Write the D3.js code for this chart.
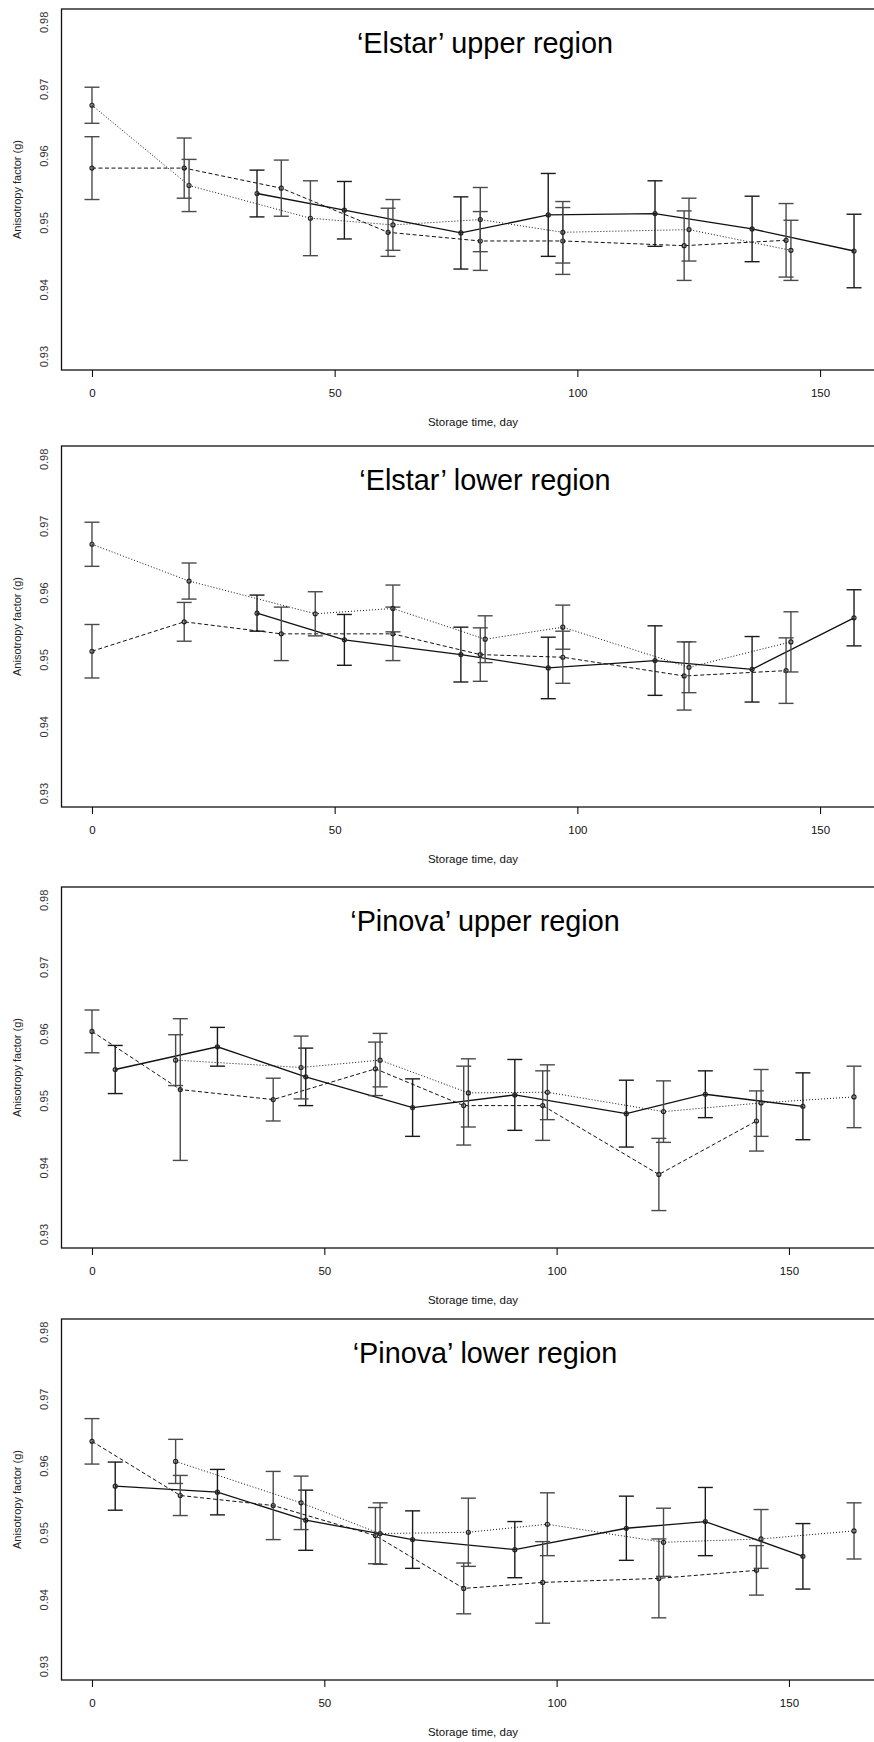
<!DOCTYPE html>
<html>
<head>
    <meta charset="utf-8">
    <title>Anisotropy factor during storage</title>
    <script src="https://d3js.org/d3.v7.min.js"></script>
    <style>
        body { margin: 0; background: #fff; }
    </style>
</head>
<body>
    <div id="chart"></div>
    <script>

// each point: [storage day, anisotropy factor, error bar half-width]
const elstarUpperSolid  = [[34,0.9544,0.0035],[52,0.9519,0.0043],[76,0.9485,0.0054],[94,0.9512,0.0062],[116,0.9514,0.0049],[136,0.9491,0.0049],[157,0.9458,0.0055]];
const elstarUpperDashed = [[0,0.9582,0.0047],[19,0.9582,0.0045],[39,0.9552,0.0042],[61,0.9486,0.0036],[80,0.9473,0.0044],[97,0.9473,0.0050],[122,0.9466,0.0052],[143,0.9474,0.0055]];
const elstarUpperDotted = [[0,0.9676,0.0027],[20,0.9556,0.0039],[45,0.9507,0.0056],[62,0.9497,0.0038],[80,0.9505,0.0048],[97,0.9486,0.0046],[123,0.9490,0.0047],[144,0.9459,0.0045]];

const elstarLowerSolid  = [[34,0.9570,0.0027],[52,0.9530,0.0038],[76,0.9508,0.0041],[94,0.9488,0.0046],[116,0.9499,0.0052],[136,0.9486,0.0049],[157,0.9563,0.0042]];
const elstarLowerDashed = [[0,0.9513,0.0040],[19,0.9557,0.0029],[39,0.9539,0.0040],[62,0.9539,0.0040],[80,0.9508,0.0040],[97,0.9504,0.0039],[122,0.9476,0.0051],[143,0.9484,0.0049]];
const elstarLowerDotted = [[0,0.9673,0.0033],[20,0.9618,0.0027],[46,0.9569,0.0033],[62,0.9577,0.0035],[81,0.9531,0.0035],[97,0.9549,0.0033],[123,0.9489,0.0038],[144,0.9527,0.0045]];

const pinovaUpperSolid  = [[5,0.9547,0.0036],[27,0.9581,0.0029],[46,0.9536,0.0043],[69,0.9490,0.0043],[91,0.9509,0.0053],[115,0.9481,0.0050],[132,0.9510,0.0035],[153,0.9492,0.0050]];
const pinovaUpperDashed = [[0,0.9604,0.0032],[19,0.9517,0.0106],[39,0.9502,0.0032],[61,0.9548,0.0040],[80,0.9493,0.0059],[97,0.9493,0.0052],[122,0.9390,0.0054],[143,0.9470,0.0045]];
const pinovaUpperDotted = [[18,0.9561,0.0038],[45,0.9550,0.0047],[62,0.9561,0.0040],[81,0.9512,0.0051],[98,0.9513,0.0041],[123,0.9484,0.0046],[144,0.9497,0.0050],[164,0.9506,0.0046]];

const pinovaLowerSolid  = [[5,0.9570,0.0036],[27,0.9561,0.0034],[46,0.9519,0.0045],[69,0.9490,0.0043],[91,0.9475,0.0042],[115,0.9507,0.0048],[132,0.9517,0.0051],[153,0.9465,0.0049]];
const pinovaLowerDashed = [[0,0.9637,0.0034],[19,0.9556,0.0030],[39,0.9541,0.0051],[61,0.9496,0.0042],[80,0.9417,0.0038],[97,0.9426,0.0061],[122,0.9432,0.0059],[143,0.9444,0.0037]];
const pinovaLowerDotted = [[18,0.9607,0.0033],[45,0.9545,0.0040],[62,0.9499,0.0046],[81,0.9501,0.0051],[98,0.9513,0.0047],[123,0.9486,0.0051],[144,0.9491,0.0044],[164,0.9503,0.0042]];

const panelTitles = ["\u2018Elstar\u2019 upper region", "\u2018Elstar\u2019 lower region", "\u2018Pinova\u2019 upper region", "\u2018Pinova\u2019 lower region"];
const xTicks = [0, 50, 100, 150];
const yTicks = [0.93, 0.94, 0.95, 0.96, 0.97, 0.98];
const xTitle = "Storage time, day";
const yTitle = "Anisotropy factor (g)";

const panels = [
  [elstarUpperSolid, elstarUpperDashed, elstarUpperDotted],
  [elstarLowerSolid, elstarLowerDashed, elstarLowerDotted],
  [pinovaUpperSolid, pinovaUpperDashed, pinovaUpperDotted],
  [pinovaLowerSolid, pinovaLowerDashed, pinovaLowerDotted]
];

// solid, dashed, dotted
const lineStyles = [
  {dash: null, width: 1.3},
  {dash: "4,2.5", width: 1},
  {dash: "1,2", width: 1}
];

const width = 874;
const height = 1742;
const panelTops = [9, 446, 887, 1319];
const plotLeft = 61.5, plotRight = 884.5, plotHeight = 361;
const font = "'Liberation Sans', Arial, sans-serif";

const svg = d3.create("svg")
    .attr("width", width)
    .attr("height", height)
    .attr("viewBox", [0, 0, width, height])
    .attr("style", "display: block; overflow: hidden;")
    .attr("font-family", font);

function pad(lo, hi) {
  const d = (hi - lo) * 0.04;
  return [lo - d, hi + d];
}

function drawPanel(series, title, top) {
  const g = svg.append("g");
  const allDays = series.flat().map(d => d[0]);

  const x = d3.scaleLinear()
      .domain(pad(d3.min(allDays), d3.max(allDays)))
      .range([plotLeft, plotRight]);

  const y = d3.scaleLinear()
      .domain(pad(yTicks[0], yTicks[yTicks.length - 1]))
      .range([top + plotHeight, top]);

  // frame
  g.append("rect")
      .attr("x", plotLeft)
      .attr("y", top)
      .attr("width", plotRight - plotLeft)
      .attr("height", plotHeight)
      .attr("fill", "none")
      .attr("stroke", "#111")
      .attr("stroke-width", 1.3);

  // x axis
  const xAxis = g.append("g")
      .attr("transform", `translate(0,${top + plotHeight})`)
      .call(d3.axisBottom(x).tickValues(xTicks).tickSize(7).tickPadding(12).tickFormat(d3.format("d")));
  xAxis.select(".domain").remove();
  xAxis.selectAll("line").attr("stroke", "#111").attr("stroke-width", 1.1);
  xAxis.selectAll("text")
      .attr("font-family", font)
      .attr("font-size", 11.5)
      .attr("fill", "#111");

  // y tick labels, parallel to the axis
  g.append("g")
    .selectAll("text")
    .data(yTicks)
    .join("text")
      .attr("transform", d => `translate(44.5,${y(d)}) rotate(-90)`)
      .attr("text-anchor", "middle")
      .attr("dy", "0.35em")
      .attr("font-size", 11)
      .attr("fill", "#333")
      .text(d => d3.format(".2f")(d));

  g.append("text")
      .attr("transform", `translate(17,${top + plotHeight / 2}) rotate(-90)`)
      .attr("text-anchor", "middle")
      .attr("dy", "0.35em")
      .attr("font-size", 11)
      .attr("fill", "#222")
      .text(yTitle);

  g.append("text")
      .attr("x", 473)
      .attr("y", top + plotHeight + 56)
      .attr("text-anchor", "middle")
      .attr("font-size", 11.5)
      .attr("fill", "#111")
      .text(xTitle);

  g.append("text")
      .attr("x", 485)
      .attr("y", top + 44)
      .attr("text-anchor", "middle")
      .attr("font-size", 28.8)
      .attr("fill", "#000")
      .text(title);

  const line = d3.line()
      .x(d => x(d[0]))
      .y(d => y(d[1]));

  series.forEach((data, i) => {
    const style = lineStyles[i];

    g.append("path")
        .datum(data)
        .attr("fill", "none")
        .attr("stroke", "#111")
        .attr("stroke-width", style.width)
        .attr("stroke-dasharray", style.dash)
        .attr("d", line);

    const bars = g.append("g")
        .attr("stroke", i === 0 ? "#1a1a1a" : "#4a4a4a")
        .attr("stroke-width", 1.4)
      .selectAll("g")
      .data(data)
      .join("g");

    bars.append("line")
        .attr("x1", d => x(d[0])).attr("x2", d => x(d[0]))
        .attr("y1", d => y(d[1] - d[2])).attr("y2", d => y(d[1] + d[2]));
    bars.append("line")
        .attr("x1", d => x(d[0]) - 7.5).attr("x2", d => x(d[0]) + 7.5)
        .attr("y1", d => y(d[1] + d[2])).attr("y2", d => y(d[1] + d[2]));
    bars.append("line")
        .attr("x1", d => x(d[0]) - 7.5).attr("x2", d => x(d[0]) + 7.5)
        .attr("y1", d => y(d[1] - d[2])).attr("y2", d => y(d[1] - d[2]));

    g.append("g")
      .selectAll("circle")
      .data(data)
      .join("circle")
        .attr("cx", d => x(d[0]))
        .attr("cy", d => y(d[1]))
        .attr("r", 2)
        .attr("fill", "none")
        .attr("stroke", "#222")
        .attr("stroke-width", 1.2);
  });
}

panels.forEach((series, i) => drawPanel(series, panelTitles[i], panelTops[i]));

document.getElementById('chart').appendChild(svg.node());

    </script>
</body>
</html>
